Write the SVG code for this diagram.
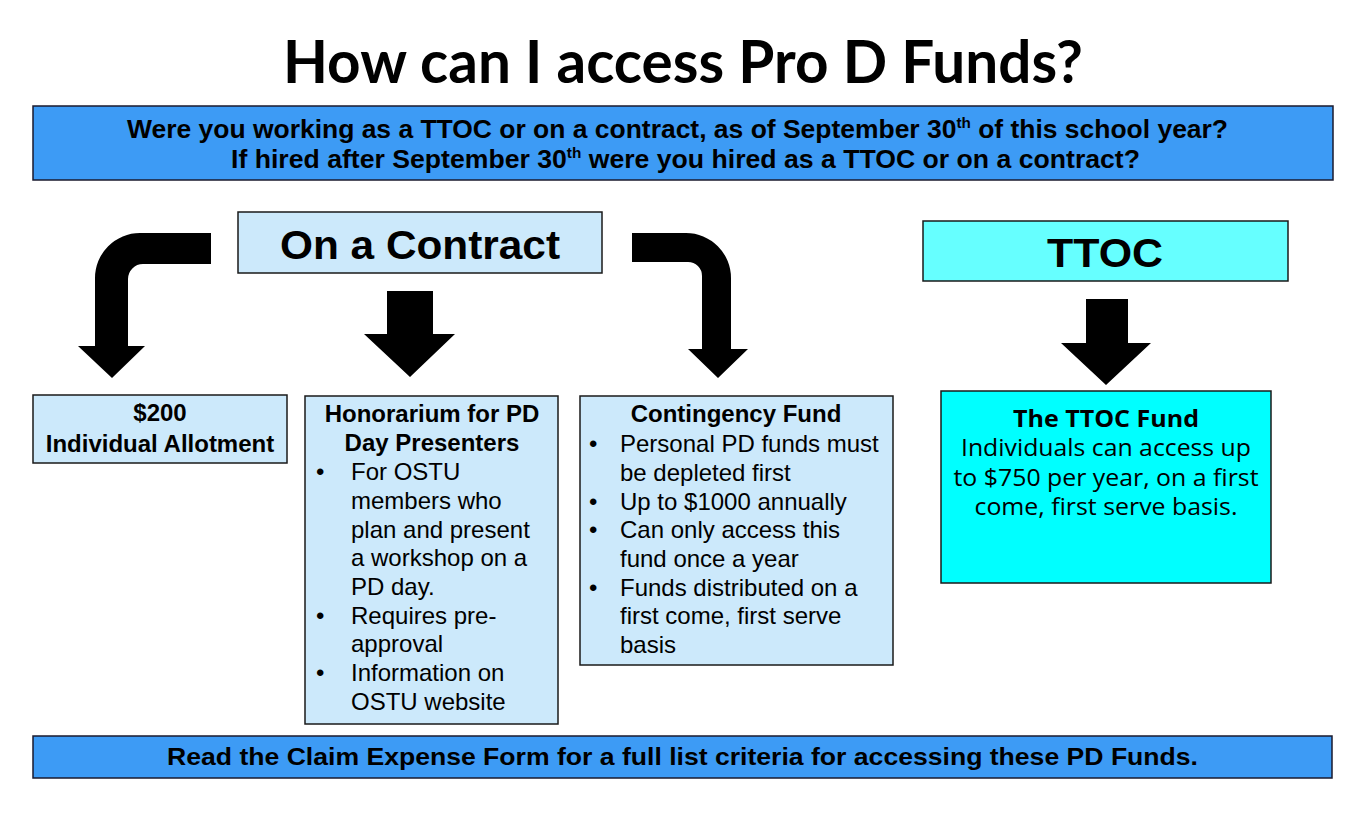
<svg xmlns="http://www.w3.org/2000/svg" width="1371" height="835" viewBox="0 0 1371 835">
<style>
.bg{fill:#ffffff}
.banner{fill:#3d9bf5;stroke:#1a1a2e;stroke-width:1.5}
.light{fill:#cce9fb;stroke:#1a1a1a;stroke-width:1.5}
.cyan1{fill:#66ffff;stroke:#1a1a1a;stroke-width:1.5}
.cyan2{fill:#00ffff;stroke:#1a1a1a;stroke-width:1.5}
.arrow{fill:#000000}
.title{font-family:Lato,"Open Sans","Liberation Sans",sans-serif;font-weight:700;font-size:60px;fill:#000}
.bt{font-family:"Liberation Sans",Arial,sans-serif;font-weight:700;fill:#000}
.body{font-family:"Liberation Sans",Arial,sans-serif;font-size:24px;fill:#000}
.os{font-family:"Open Sans","Noto Sans",sans-serif;font-size:23px;fill:#000}
.c{text-anchor:middle}
</style>
<rect class="bg" x="0" y="0" width="1371" height="835"/>

<text class="title c" x="683" y="83" textLength="800" lengthAdjust="spacingAndGlyphs">How can I access Pro D Funds?</text>

<g id="question">
<rect class="banner" x="33" y="106" width="1300" height="74"/>
<text class="bt" x="127" y="138" font-size="26" textLength="1101" lengthAdjust="spacingAndGlyphs">Were you working as a TTOC or on a contract, as of September 30<tspan font-size="15" dy="-10">th</tspan><tspan dy="10"> of this school year?</tspan></text>
<text class="bt" x="231" y="168" font-size="26" textLength="909" lengthAdjust="spacingAndGlyphs">If hired after September 30<tspan font-size="15" dy="-10">th</tspan><tspan dy="10"> were you hired as a TTOC or on a contract?</tspan></text>
</g>

<g id="contract">
<rect class="light" x="238" y="212" width="364" height="61"/>
<text class="bt c" x="420" y="259" font-size="41" textLength="280" lengthAdjust="spacingAndGlyphs">On a Contract</text>
</g>

<g id="ttoc">
<rect class="cyan1" x="923" y="221" width="365" height="60"/>
<text class="bt c" x="1105" y="267" font-size="41" textLength="116" lengthAdjust="spacingAndGlyphs">TTOC</text>
</g>

<g id="connectors">
<path class="arrow" d="M211 233 L140 233 A45 45 0 0 0 95 278 L95 346 L78 346 L112 378 L145 346 L128 346 L128 279 A15 15 0 0 1 143 264 L211 264 Z"/>
<path class="arrow" d="M387 291 L433 291 L433 334 L455 334 L410 377 L364 334 L387 334 Z"/>
<path class="arrow" d="M632 233 L686 233 A45 45 0 0 1 731 278 L731 349 L748 349 L718 378 L688 349 L702 349 L702 276 A14 14 0 0 0 688 262 L632 262 Z"/>
<path class="arrow" d="M1086 299 L1128 299 L1128 343 L1151 343 L1106 385 L1061 343 L1086 343 Z"/>
</g>

<g id="allotment">
<rect class="light" x="33" y="395" width="254" height="68"/>
<text class="bt c" x="160" y="421" font-size="24">$200</text>
<text class="bt c" x="160" y="452" font-size="24">Individual Allotment</text>
</g>

<g id="honorarium">
<rect class="light" x="305" y="396" width="253" height="328"/>
<text class="bt c" x="432" y="422" font-size="24">Honorarium for PD</text>
<text class="bt c" x="432" y="451" font-size="24">Day Presenters</text>
<text class="body" x="316" y="480">•</text>
<text class="body" x="316" y="624">•</text>
<text class="body" x="316" y="681">•</text>
<text class="body" x="351" y="480">For OSTU</text>
<text class="body" x="351" y="509">members who</text>
<text class="body" x="351" y="538">plan and present</text>
<text class="body" x="351" y="566">a workshop on a</text>
<text class="body" x="351" y="595">PD day.</text>
<text class="body" x="351" y="624">Requires pre-</text>
<text class="body" x="351" y="652">approval</text>
<text class="body" x="351" y="681">Information on</text>
<text class="body" x="351" y="710">OSTU website</text>
</g>

<g id="contingency">
<rect class="light" x="580" y="396" width="313" height="269"/>
<text class="bt c" x="736" y="422" font-size="24">Contingency Fund</text>
<text class="body" x="589" y="452">•</text>
<text class="body" x="589" y="510">•</text>
<text class="body" x="589" y="538">•</text>
<text class="body" x="589" y="596">•</text>
<text class="body" x="620" y="452">Personal PD funds must</text>
<text class="body" x="620" y="481">be depleted first</text>
<text class="body" x="620" y="510">Up to $1000 annually</text>
<text class="body" x="620" y="538">Can only access this</text>
<text class="body" x="620" y="567">fund once a year</text>
<text class="body" x="620" y="596">Funds distributed on a</text>
<text class="body" x="620" y="624">first come, first serve</text>
<text class="body" x="620" y="653">basis</text>
</g>

<g id="ttocfund">
<rect class="cyan2" x="941" y="391" width="330" height="192"/>
<text class="os c" x="1106" y="427" font-weight="700" textLength="186" lengthAdjust="spacingAndGlyphs">The TTOC Fund</text>
<text class="os c" x="1106" y="456" textLength="290" lengthAdjust="spacingAndGlyphs">Individuals can access up</text>
<text class="os c" x="1106" y="486" textLength="305" lengthAdjust="spacingAndGlyphs">to $750 per year, on a first</text>
<text class="os c" x="1106" y="515" textLength="263" lengthAdjust="spacingAndGlyphs">come, first serve basis.</text>
</g>

<g id="footer">
<rect class="banner" x="33" y="736" width="1299" height="42"/>
<text class="bt" x="167" y="765" font-size="24" textLength="1031" lengthAdjust="spacingAndGlyphs">Read the Claim Expense Form for a full list criteria for accessing these PD Funds.</text>
</g>
</svg>
